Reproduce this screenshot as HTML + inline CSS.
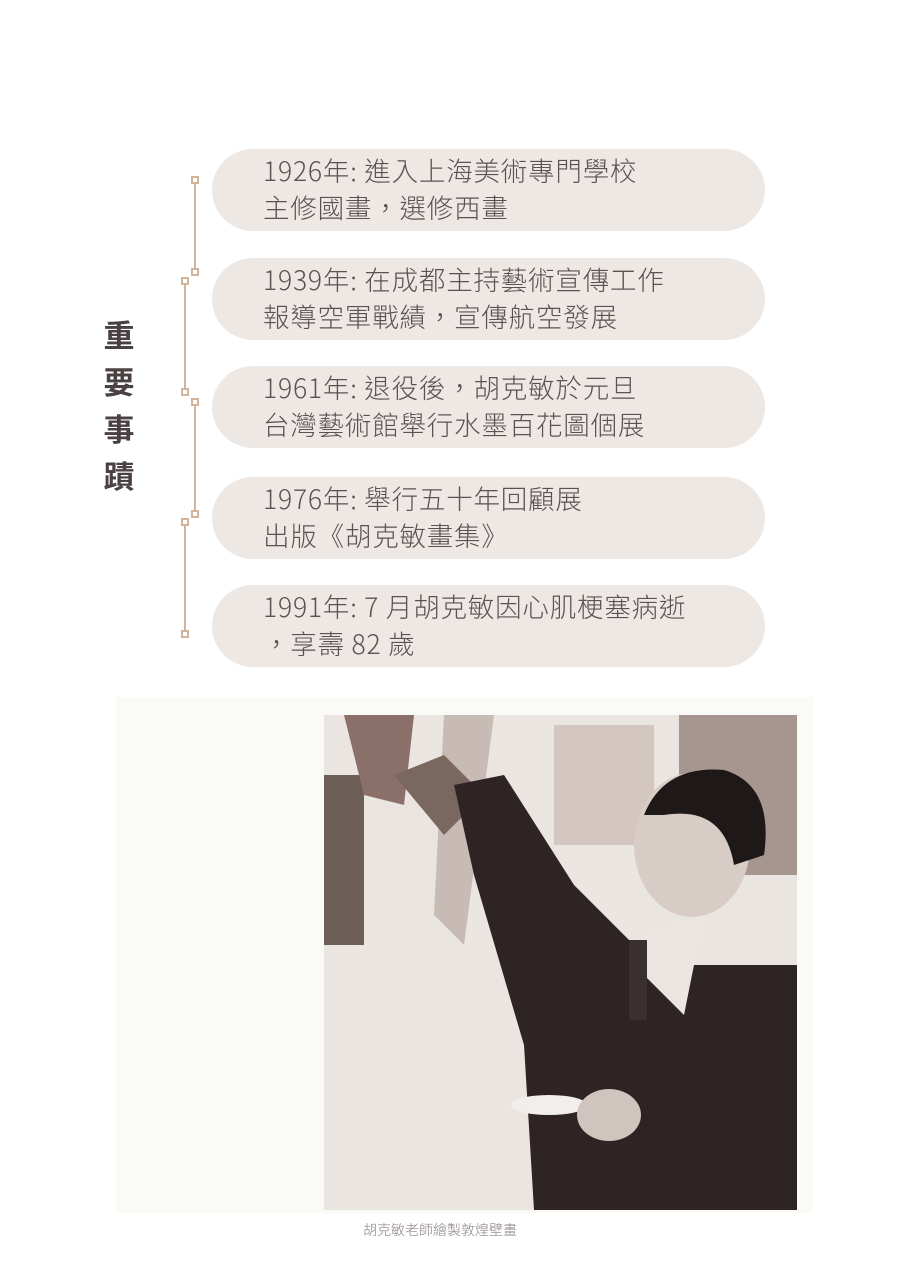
<!DOCTYPE html>
<html><head><meta charset="utf-8"><style>
body{margin:0;width:905px;height:1280px;background:#fff;position:relative;overflow:hidden;font-family:"Liberation Sans","Noto Sans CJK TC",sans-serif}
.pill{position:absolute;left:212px;width:553px;height:82px;border-radius:41px;background:#ede8e4;color:#5a5252;font-size:26.5px;line-height:37px;box-sizing:border-box;padding:2px 0 0 51px;font-family:"Noto Sans CJK TC",sans-serif;font-weight:300;white-space:nowrap;letter-spacing:0.8px}
.title{position:absolute;left:101px;top:310px;width:36px;font-size:31px;font-weight:bold;color:#4a4242;font-family:"Noto Sans CJK TC",sans-serif;line-height:47px;text-align:center}
</style></head><body>
<div class="title">重<br>要<br>事<br>蹟</div>
<svg style="position:absolute;left:0;top:0" width="905" height="700">
<g stroke="#d1b49a" stroke-width="2" fill="#fff">
<line x1="195" y1="183" x2="195" y2="269"/><line x1="185" y1="284" x2="185" y2="389"/>
<line x1="195" y1="405" x2="195" y2="511"/><line x1="185" y1="525" x2="185" y2="631"/>
<rect x="192" y="177" width="6" height="6"/><rect x="192" y="269" width="6" height="6"/>
<rect x="182" y="278" width="6" height="6"/><rect x="182" y="389" width="6" height="6"/>
<rect x="192" y="399" width="6" height="6"/><rect x="192" y="511" width="6" height="6"/>
<rect x="182" y="519" width="6" height="6"/><rect x="182" y="631" width="6" height="6"/>
</g></svg>
<div class="pill" style="top:149px">1926年: 進入上海美術專門學校<br>主修國畫，選修西畫</div>
<div class="pill" style="top:258px">1939年: 在成都主持藝術宣傳工作<br>報導空軍戰績，宣傳航空發展</div>
<div class="pill" style="top:366px">1961年: 退役後，胡克敏於元旦<br>台灣藝術館舉行水墨百花圖個展</div>
<div class="pill" style="top:477px">1976年: 舉行五十年回顧展<br>出版《胡克敏畫集》</div>
<div class="pill" style="top:585px">1991年: 7 月胡克敏因心肌梗塞病逝<br>，享壽 82 歲</div>
<div style="position:absolute;left:116px;top:697px;width:697px;height:516px;background:#fafaf6"></div>
<svg style="position:absolute;left:324px;top:715px" width="473" height="495">
<rect width="473" height="495" fill="#ebe5e1"/>
<rect x="0" y="60" width="40" height="170" fill="#6e5e58"/>
<path d="M20 0 L90 0 L80 90 L40 80 Z" fill="#8a7068"/>
<path d="M120 0 L170 0 L140 230 L110 200 Z" fill="#c8bab4"/>
<rect x="355" y="0" width="118" height="160" fill="#a6968f"/>
<rect x="230" y="10" width="100" height="120" fill="#d4c6c0"/>
<path d="M70 60 L120 40 L160 80 L120 120 Z" fill="#7a6860"/>
<path d="M130 70 L180 60 L250 170 L330 250 L473 250 L473 495 L210 495 L200 330 L150 160 Z" fill="#2e2424"/>
<ellipse cx="368" cy="130" rx="58" ry="72" fill="#d8ccc6"/>
<path d="M320 100 Q340 50 400 55 Q450 70 440 140 L410 150 Q400 90 340 100 Z" fill="#1e1818"/>
<path d="M320 220 L380 200 L360 300 L320 260 Z" fill="#ece6e2"/>
<rect x="305" y="225" width="18" height="80" fill="#3a3030"/>
<ellipse cx="225" cy="390" rx="38" ry="10" fill="#f2eeec"/>
<ellipse cx="285" cy="400" rx="32" ry="26" fill="#cfc4be"/>
</svg>
<div style="position:absolute;left:300px;top:1220px;width:280px;text-align:center;font-size:14px;color:#8a8282;font-family:'Noto Sans CJK TC',sans-serif;font-weight:300">胡克敏老師繪製敦煌壁畫</div>
</body></html>
